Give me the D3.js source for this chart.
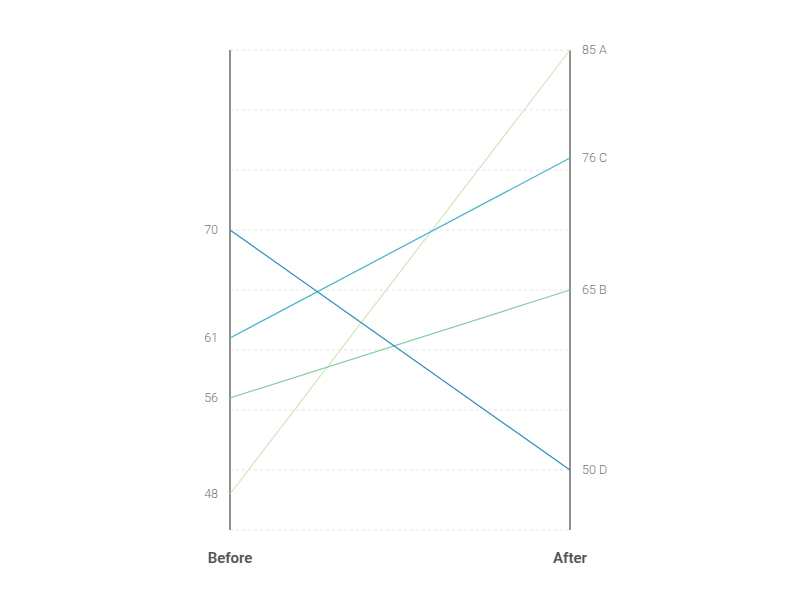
<!DOCTYPE html>
<html>
<head>
<meta charset="utf-8">
<script src="https://cdn.jsdelivr.net/npm/d3@7"></script>
<style>
  body { margin: 0; background: #fff; font-family: Roboto, sans-serif; }
</style>
</head>
<body>
<div id="chart"></div>
<script>
// Slope chart data
var seriesNames = ["A", "B", "C", "D"]
var beforeValues = [48, 56, 61, 70]
var afterValues = [85, 65, 76, 50]
var columnLabels = ["Before", "After"]
var gridTicks = [45, 50, 55, 60, 65, 70, 75, 80, 85]
var seriesColors = ["#d3e6bd", "#80cda6", "#43b4c6", "#2c8fbb"]

var width = 800,
  height = 600

var svg = d3
  .select("#chart")
  .append("svg")
  .attr("width", width)
  .attr("height", height)

var x = d3.scalePoint().domain(columnLabels).range([230, 570])
var y = d3.scaleLinear().domain([45, 85]).range([530, 50])
var color = d3.scaleOrdinal().domain(seriesNames).range(seriesColors)

var data = seriesNames.map(function (name, i) {
  return { name: name, before: beforeValues[i], after: afterValues[i] }
})

// dashed gridlines
svg
  .append("g")
  .selectAll("line")
  .data(gridTicks)
  .enter()
  .append("line")
  .attr("x1", x("Before"))
  .attr("x2", x("After"))
  .attr("y1", (d) => y(d))
  .attr("y2", (d) => y(d))
  .attr("stroke", "#e3e3e3")
  .attr("stroke-width", 1)
  .attr("stroke-dasharray", "3,3")

// vertical axes
svg
  .append("g")
  .selectAll("line")
  .data(columnLabels)
  .enter()
  .append("line")
  .attr("x1", (d) => x(d))
  .attr("x2", (d) => x(d))
  .attr("y1", y(85))
  .attr("y2", y(45))
  .attr("stroke", "#8f8f8f")
  .attr("stroke-width", 2)

// slope lines
svg
  .append("g")
  .selectAll("line")
  .data(data)
  .enter()
  .append("line")
  .attr("x1", x("Before"))
  .attr("x2", x("After"))
  .attr("y1", (d) => y(d.before))
  .attr("y2", (d) => y(d.after))
  .attr("stroke", (d) => color(d.name))
  .attr("stroke-width", 1.2)

// left labels
svg
  .append("g")
  .selectAll("text")
  .data(data)
  .enter()
  .append("text")
  .attr("x", x("Before") - 12)
  .attr("y", (d) => y(d.before))
  .attr("dy", "0.35em")
  .attr("text-anchor", "end")
  .attr("font-size", 12.5)
  .attr("font-weight", 300)
  .attr("fill", "#777")
  .text((d) => d.before)

// right labels
svg
  .append("g")
  .selectAll("text")
  .data(data)
  .enter()
  .append("text")
  .attr("x", x("After") + 12)
  .attr("y", (d) => y(d.after))
  .attr("dy", "0.35em")
  .attr("text-anchor", "start")
  .attr("font-size", 12.5)
  .attr("font-weight", 300)
  .attr("fill", "#777")
  .text((d) => d.after + " " + d.name)

// column titles
svg
  .append("g")
  .selectAll("text")
  .data(columnLabels)
  .enter()
  .append("text")
  .attr("x", (d) => x(d))
  .attr("y", 558)
  .attr("dy", "0.35em")
  .attr("text-anchor", "middle")
  .attr("font-size", 15)
  .attr("font-weight", 600)
  .attr("fill", "#555")
  .text((d) => d)
</script>
</body>
</html>
